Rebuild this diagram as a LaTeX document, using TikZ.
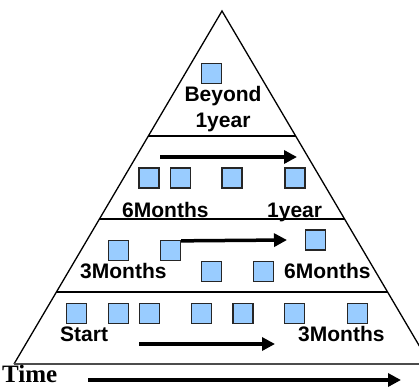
\documentclass[tikz,border=0pt]{standalone}
\usepackage{fontspec}
\setmainfont{Liberation Sans}
\newfontfamily\timefont{Liberation Serif}
\usetikzlibrary{arrows.meta,calc}
\definecolor{boxblue}{HTML}{99CCFF}

\begin{document}
\begin{tikzpicture}[
    x=1pt, y=-1pt,
    edge/.style={line width=1.3pt},
    box/.style={draw=black!85, fill=boxblue, line width=1.3pt, minimum size=20pt, inner sep=0pt},
    lbl/.style={font=\fontsize{21}{26}\selectfont\bfseries, inner sep=0pt},
    arrow/.style={-{Triangle[length=13pt,width=13pt]}, line width=3.5pt}
  ]
    \clip (0,0) rectangle (419,387);

    % pyramid
    \coordinate (apex) at (222,11);
    \coordinate (bl) at (14,364);
    \coordinate (br) at (430,364);
    \draw[edge] (bl) -- (apex) -- (br);
    \draw[edge, black!70] (bl) -- (br);
    \foreach \t in {0.354,0.589,0.796}
      \draw[edge] ($(apex)!\t!(bl)$) -- ($(apex)!\t!(br)$);

    % top level
    \node[box] (b0) at (211.5,73.5) {};
    \node[lbl, anchor=base] (beyond) at (223,101.5) {Beyond};
    \node[lbl, anchor=base] (oneyearA) at (223,127.5) {1year};

    % second level
    \coordinate (a1s) at (160,157);
    \coordinate (a1e) at (297,157);
    \draw[arrow] (a1s) -- (a1e);
    \foreach \x [count=\i] in {149,180.5,232,295}
      \node[box] (b1\i) at (\x,178) {};
    \node[lbl, anchor=base west] (sixA) at (122,217) {6Months};
    \node[lbl, anchor=base west] (oneyearB) at (267,217) {1year};

    % third level
    \node[box] (b21) at (118.5,250.5) {};
    \node[box] (b22) at (170.5,250.5) {};
    \node[box] (b23) at (211.5,271.5) {};
    \node[box] (b24) at (263.5,271.5) {};
    \node[box] (b25) at (315.5,240) {};
    \coordinate (a2e) at (287,240);
    \draw[arrow] (b22.north east) ++(0,1) -- (a2e);
    \node[lbl, anchor=base west] (threeA) at (80,278) {3Months};
    \node[lbl, anchor=base west] (sixB) at (284,278) {6Months};

    % bottom level
    \foreach \x [count=\i] in {76.5,118.5,149.5,201.5,243,294.5,357.5}
      \node[box] (b3\i) at (\x,313.5) {};
    \node[lbl, anchor=base west] (start) at (60,341) {Start};
    \node[lbl, anchor=base west] (threeB) at (298,341) {3Months};
    \coordinate (a3s) at (139,344);
    \coordinate (a3e) at (275,344);
    \draw[arrow] (a3s) -- (a3e);

    % time axis
    \node[font=\timefont\fontsize{25}{27}\selectfont\bfseries, inner sep=0pt, anchor=base west] (time) at (2,382) {Time};
    \coordinate (ts) at (88,380);
    \coordinate (te) at (401,380);
    \draw[arrow, line width=4pt] (ts) -- (te);
\end{tikzpicture}
\end{document}
